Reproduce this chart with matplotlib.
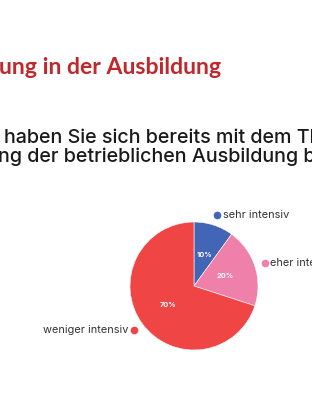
import matplotlib.pyplot as plt
import numpy as np

# survey answers (share in %)
categories = ['sehr intensiv', 'eher intensiv', 'weniger intensiv']
values = [10, 20, 70]
colors = ['#4265b5', '#ee80a9', '#ef4545']

title = 'ung in der Ausbildung'
question = ['haben Sie sich bereits mit dem Thema',
            'ng der betrieblichen Ausbildung beschäftigt?']

fig = plt.figure(figsize=(3.12, 4.12), dpi=100)
fig.patch.set_facecolor('white')

# slide title + question (cropped on the left/right like the screenshot)
fig.text(-0.003, 1 - 74 / 412, title, color='#c0282b', fontsize=16.6,
         fontweight='bold', family='Lato', ha='left', va='baseline')
fig.text(0.012, 1 - 143 / 412, question[0], color='#1a1a1a', fontsize=14.2,
         fontweight='medium', family='Inter', ha='left', va='baseline')
fig.text(-0.006, 1 - 162 / 412, question[1], color='#1a1a1a', fontsize=14.2,
         fontweight='medium', family='Inter', ha='left', va='baseline')

ax = fig.add_axes([94 / 312, 26 / 412, 200 / 312, 200 / 412])
wedges, texts, autotexts = ax.pie(values, colors=colors, startangle=90,
                                  counterclock=False, autopct='%d%%',
                                  pctdistance=0.51,
                                  wedgeprops=dict(edgecolor='white', linewidth=0.4),
                                  textprops=dict(color='white', fontsize=5.3,
                                                 fontweight='bold', family='Inter'))
lim = 100 / 64
ax.set_xlim(-lim, lim)
ax.set_ylim(-lim, lim)
ax.set_aspect('equal')

# outside labels with colour dots
for w, name, c in zip(wedges, categories, colors):
    ang = np.deg2rad((w.theta1 + w.theta2) / 2)
    x, y = 1.16 * np.cos(ang), 1.16 * np.sin(ang)
    ax.plot(x, y, 'o', color=c, markersize=4.5, clip_on=False)
    if x >= 0:
        ax.text(x + 0.09, y, name, ha='left', va='center', fontsize=7.9,
                color='#333333', family='Inter', clip_on=False)
    else:
        ax.text(x - 0.09, y, name, ha='right', va='center', fontsize=7.9,
                color='#333333', family='Inter', clip_on=False)

fig.savefig('out.png', dpi=100, facecolor='white')
